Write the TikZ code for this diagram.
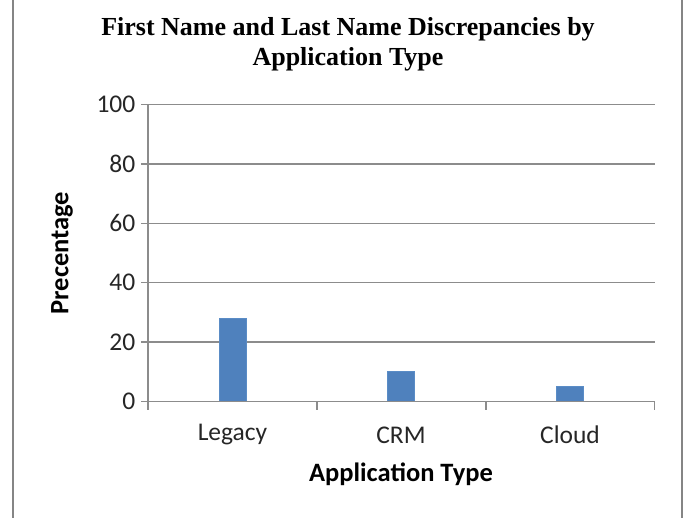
\documentclass[tikz,border=0pt]{standalone}
\usepackage{fontspec}
\setmainfont{Carlito}
\newfontfamily\titlefont{Liberation Serif}
\definecolor{barblue}{HTML}{4F81BD}
\definecolor{baredge}{HTML}{5A8CC6}
\definecolor{gridgray}{HTML}{8C8C8C}
\definecolor{framegray}{HTML}{858585}
\definecolor{labelgray}{HTML}{262626}
\tikzset{
  gridline/.style={draw=gridgray, line width=1.3pt},
  framestroke/.style={draw=framegray, line width=2pt},
  databar/.style={fill=barblue, draw=baredge, line width=0.8pt},
  ticklabel/.style={font=\fontsize{25.5}{28}\selectfont, text=labelgray, inner sep=0pt},
  axistitle/.style={font=\fontsize{26.5}{30}\selectfont\bfseries, text=black, inner sep=0pt},
  charttitle/.style={font=\titlefont\fontsize{26}{30}\selectfont\bfseries, align=center, inner sep=0pt}
}
\begin{document}
\begin{tikzpicture}[x=1pt, y=-1pt]
\useasboundingbox (0,0) rectangle (684,518);

% outer frame (left and right edges)
\draw[framestroke] (12.5,-2) -- (12.5,520);
\draw[framestroke] (681.5,-2) -- (681.5,520);

% title
\node[charttitle] (title) at (348,44) {First Name and Last Name Discrepancies by\\Application Type};

% horizontal grid lines with tick marks and value labels
\foreach \v/\yy in {0/401.5, 20/342.1, 40/282.7, 60/223.3, 80/163.9, 100/104.5} {
  \draw[gridline] (141,\yy) -- (654.5,\yy);
  \node[ticklabel, anchor=east] (y\v) at (135.5,\yy) {\v};
}

% value axis
\draw[gridline] (148,104.5) -- (148,401.5);

% category ticks
\foreach \xx in {148, 317, 486, 654.5} {
  \draw[gridline] (\xx,401.5) -- (\xx,409.5);
}

% bars
\path[databar] (219.5,401.5) rectangle (246.5,318.3);
\path[databar] (387.5,401.5) rectangle (414.5,371.8);
\path[databar] (556,401.5) rectangle (583.5,386.6);
\draw[gridline] (141,401.5) -- (654.5,401.5);

% category labels
\node[ticklabel] (legacy) at (232.5,435) {Legacy};
\node[ticklabel] (crm) at (401,435) {CRM};
\node[ticklabel] (cloud) at (570,435) {Cloud};

% axis titles
\node[axistitle] (xtitle) at (401,474) {Application Type};
\node[axistitle, rotate=90] (ytitle) at (62,253) {Precentage};
\end{tikzpicture}
\end{document}
